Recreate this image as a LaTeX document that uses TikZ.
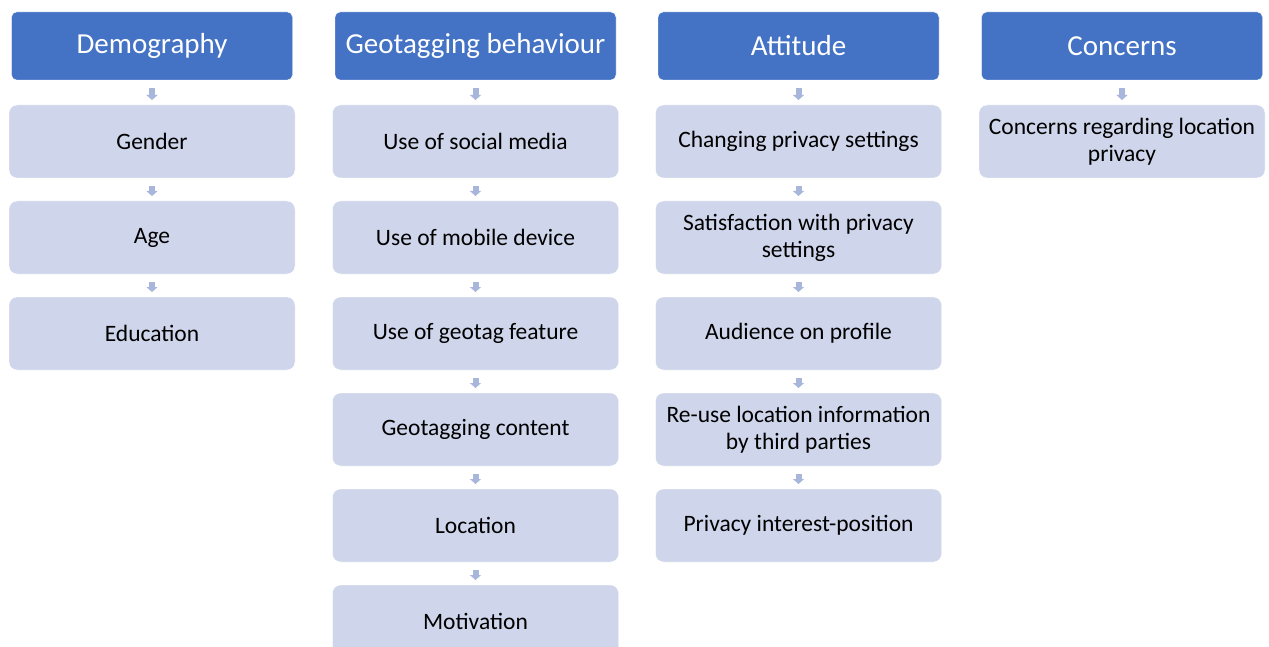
\documentclass[tikz,border=0pt]{standalone}
\usepackage{fontspec}
\setmainfont{Carlito}
\usepackage{xcolor}
\usetikzlibrary{arrows.meta,positioning}

\definecolor{headblue}{HTML}{4472C4}
\definecolor{itemfill}{HTML}{CFD5EA}
\definecolor{flowblue}{HTML}{A9B6DB}

\begin{document}
\begin{tikzpicture}[
    x=1pt, y=-1pt,
    head/.style={rectangle, draw=white, fill=headblue, text=white, minimum width=281pt, minimum height=68pt, rounded corners=5pt, outer sep=0pt, font=\fontsize{29}{34}\selectfont},
    item/.style={rectangle, draw=white, fill=itemfill, text=black, align=center, minimum width=286pt, minimum height=73pt, rounded corners=8pt, outer sep=0pt, font=\fontsize{23.5}{27}\selectfont},
    flow/.style={draw=flowblue, line width=6pt, -{Triangle[width=11pt,length=5pt]}, shorten <=8pt, shorten >=5pt},
]
    \useasboundingbox (0,0) rectangle (1269,647);

    % column headers
    \node[head] (demo) at (152,46) {Demography};
    \node[head] (geo) at (475.5,46) {Geotagging behaviour};
    \node[head] (att) at (798.5,46) {Attitude};
    \node[head] (conc) at (1122,46) {Concerns};

    % demography
    \node[item, below=25pt of demo] (gender) {Gender};
    \node[item, below=23pt of gender] (age) {Age};
    \node[item, below=23pt of age] (edu) {Education};

    % geotagging behaviour
    \node[item, below=25pt of geo] (social) {Use of social media};
    \node[item, below=23pt of social] (mobile) {Use of mobile device};
    \node[item, below=23pt of mobile] (feature) {Use of geotag feature};
    \node[item, below=23pt of feature] (content) {Geotagging content};
    \node[item, below=23pt of content] (loc) {Location};
    \node[item, below=23pt of loc] (motiv) {Motivation};

    % attitude
    \node[item, below=25pt of att] (change) {Changing privacy settings};
    \node[item, below=23pt of change] (satis) {Satisfaction with privacy\\settings};
    \node[item, below=23pt of satis] (aud) {Audience on profile};
    \node[item, below=23pt of aud] (reuse) {Re-use location information\\by third parties};
    \node[item, below=23pt of reuse] (interest) {Privacy interest-position};

    % concerns
    \node[item, below=25pt of conc] (locpriv) {Concerns regarding location\\privacy};

    \draw[flow] (demo) -- (gender);
    \draw[flow] (gender) -- (age);
    \draw[flow] (age) -- (edu);

    \draw[flow] (geo) -- (social);
    \draw[flow] (social) -- (mobile);
    \draw[flow] (mobile) -- (feature);
    \draw[flow] (feature) -- (content);
    \draw[flow] (content) -- (loc);
    \draw[flow] (loc) -- (motiv);

    \draw[flow] (att) -- (change);
    \draw[flow] (change) -- (satis);
    \draw[flow] (satis) -- (aud);
    \draw[flow] (aud) -- (reuse);
    \draw[flow] (reuse) -- (interest);

    \draw[flow] (conc) -- (locpriv);
\end{tikzpicture}
\end{document}
